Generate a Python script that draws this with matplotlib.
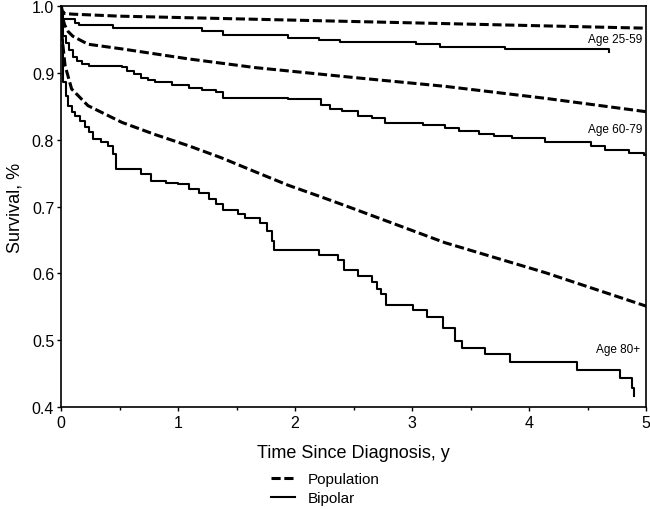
import matplotlib
matplotlib.use('Agg')
from matplotlib import pyplot as plt
from matplotlib.ticker import MultipleLocator, FormatStrFormatter

plt.rcParams['font.family'] = ['Liberation Sans', 'DejaVu Sans']

# population (expected) survival curves
pop_young_t = [0, 0.01, 0.03, 0.1, 0.5, 1, 2, 3, 4, 5]
pop_young_s = [1.0, 0.993, 0.989, 0.988, 0.985, 0.983, 0.979, 0.975, 0.971, 0.967]

pop_mid_t = [0, 0.01, 0.03, 0.06, 0.1, 0.23, 0.52, 1.09, 1.66, 2.51, 3.28, 4.14, 5.0]
pop_mid_s = [1.0, 0.985, 0.972, 0.962, 0.955, 0.943, 0.936, 0.921, 0.908, 0.893, 0.880, 0.862, 0.842]

pop_old_t = [0, 0.01, 0.034, 0.09, 0.23, 0.52, 0.8, 1.09, 1.37, 1.66, 1.94, 2.23, 2.45, 3.28, 4.14, 5.0]
pop_old_s = [1.0, 0.95, 0.911, 0.876, 0.851, 0.826, 0.808, 0.791, 0.773, 0.752, 0.732, 0.714, 0.700, 0.646, 0.601, 0.551]

# bipolar Kaplan-Meier curves
bp_young_t = [0, 0.005, 0.02, 0.12, 0.15, 0.44, 1.2, 1.38, 1.94, 2.2, 2.38, 3.03, 3.24, 3.79, 4.68]
bp_young_s = [1.0, 0.99, 0.981, 0.975, 0.972, 0.967, 0.963, 0.957, 0.953, 0.950, 0.947, 0.943, 0.939, 0.936, 0.931]

bp_mid_t = [0, 0.005, 0.01, 0.02, 0.04, 0.07, 0.1, 0.14, 0.18, 0.24,
            0.52, 0.56, 0.62, 0.68, 0.74, 0.8, 0.95, 1.09, 1.2, 1.32,
            1.38, 1.94, 2.22, 2.3, 2.4, 2.54, 2.66, 2.77, 3.09, 3.28,
            3.4, 3.57, 3.7, 3.85, 4.14, 4.53, 4.65, 4.85, 4.98, 5.0]
bp_mid_s = [1.0, 0.985, 0.97, 0.955, 0.945, 0.935, 0.924, 0.918, 0.913, 0.911,
            0.909, 0.903, 0.898, 0.893, 0.889, 0.886, 0.882, 0.878, 0.875, 0.871,
            0.863, 0.861, 0.852, 0.846, 0.843, 0.836, 0.833, 0.825, 0.822, 0.817,
            0.813, 0.808, 0.805, 0.802, 0.797, 0.791, 0.785, 0.780, 0.777, 0.777]

bp_old_t = [0, 0.005, 0.02, 0.04, 0.06, 0.09, 0.12, 0.16, 0.2, 0.24,
            0.27, 0.34, 0.4, 0.44, 0.47, 0.68, 0.77, 0.9, 1.0, 1.09,
            1.18, 1.26, 1.32, 1.38, 1.51, 1.57, 1.7, 1.76, 1.8, 1.82,
            2.2, 2.37, 2.42, 2.54, 2.66, 2.7, 2.73, 2.78, 3.01, 3.13,
            3.26, 3.37, 3.43, 3.62, 3.84, 4.41, 4.78, 4.88, 4.9]
bp_old_s = [1.0, 0.95, 0.886, 0.865, 0.850, 0.842, 0.835, 0.828, 0.819, 0.811,
            0.801, 0.796, 0.791, 0.778, 0.756, 0.749, 0.739, 0.736, 0.734, 0.726,
            0.720, 0.711, 0.704, 0.695, 0.689, 0.683, 0.676, 0.664, 0.649, 0.635,
            0.628, 0.620, 0.605, 0.596, 0.587, 0.577, 0.569, 0.552, 0.545, 0.535,
            0.518, 0.499, 0.489, 0.479, 0.468, 0.455, 0.443, 0.429, 0.416]

age_labels = ['Age 25-59', 'Age 60-79', 'Age 80+']
label_pos = [(4.97, 0.951), (4.97, 0.816), (4.95, 0.487)]

fig = plt.figure(figsize=(6.5, 5.1), dpi=100)
ax = fig.add_axes([0.094, 0.2, 0.9, 0.786])

dash = (0, (3, 1.2))
for t, s in [(pop_young_t, pop_young_s), (pop_mid_t, pop_mid_s), (pop_old_t, pop_old_s)]:
    pline, = ax.plot(t, s, color='black', lw=2.2, linestyle=dash)
for t, s in [(bp_young_t, bp_young_s), (bp_mid_t, bp_mid_s), (bp_old_t, bp_old_s)]:
    bline, = ax.step(t, s, where='post', color='black', lw=1.5)

for lab, (x, y) in zip(age_labels, label_pos):
    ax.text(x, y, lab, ha='right', va='center', fontsize=8.5)

ax.set_xlim(0, 5)
ax.set_ylim(0.4, 1.0)
ax.xaxis.set_major_locator(MultipleLocator(1))
ax.xaxis.set_minor_locator(MultipleLocator(0.5))
ax.yaxis.set_major_locator(MultipleLocator(0.1))
ax.yaxis.set_major_formatter(FormatStrFormatter('%.1f'))
ax.tick_params(which='major', direction='out', length=3, width=1, labelsize=11.5)
ax.tick_params(which='minor', direction='out', length=2, width=1)
ax.tick_params(axis='x', pad=3)
ax.tick_params(axis='y', pad=2)
for sp in ax.spines.values():
    sp.set_linewidth(1.2)

ax.set_xlabel('Time Since Diagnosis, y', fontsize=13, labelpad=10)
ax.set_ylabel('Survival, %', fontsize=13, labelpad=6)

fig.legend([pline, bline], ['Population', 'Bipolar'], loc='upper left',
           bbox_to_anchor=(0.405, 0.087), frameon=False, fontsize=11,
           handlelength=1.6, handletextpad=0.8, labelspacing=0.3, borderpad=0)

plt.savefig('out.png')
